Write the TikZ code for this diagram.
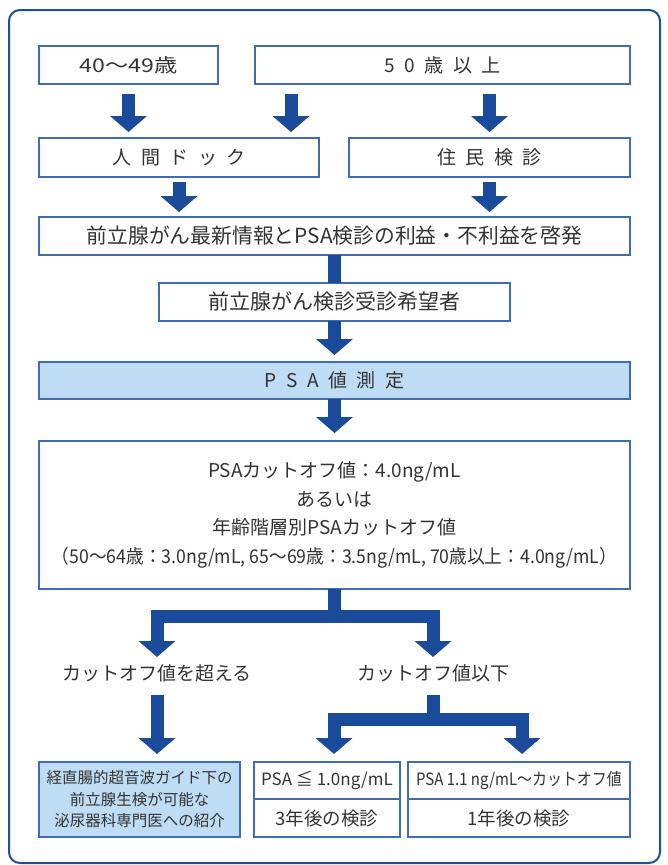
\documentclass[tikz,border=0pt]{standalone}
\usepackage{fontspec}
\setmainfont{Noto Sans CJK JP}
\usetikzlibrary{arrows.meta,calc}
\definecolor{frameblue}{HTML}{1F4E9B}
\definecolor{boxblue}{HTML}{3E6DB5}
\definecolor{arrowblue}{HTML}{1A4A9A}
\definecolor{fillblue}{HTML}{BEDCF3}
\definecolor{textgray}{HTML}{333333}
\newcommand\lsp{\hspace{0.5em}}
\begin{document}
\begin{tikzpicture}[x=1pt,y=1pt,
  box/.style={draw=boxblue, line width=1.2pt, anchor=north west, inner sep=0pt, outer sep=0pt,
    text=textgray, font=\fontsize{19}{22}\selectfont, align=center},
  barrow/.style={draw=arrowblue, line width=13pt, line join=miter,
    -{Triangle[width=37pt,length=16pt,line width=0pt]}},
  bline/.style={draw=arrowblue, line width=13pt, line join=miter},
  lbl/.style={text=textgray, font=\fontsize{19}{22}\selectfont, inner sep=0pt}
]
\useasboundingbox (0,0) rectangle (667,-865);
\draw[frameblue, line width=2pt, rounded corners=11pt] (9,-10) rectangle (660,-863);

% row 1
\node[box, minimum width=179pt, minimum height=38pt] (a40) at (39,-46) {\scalebox{1.22}[1]{40〜49歳}};
\node[box, minimum width=375pt, minimum height=38pt] (a50) at (255,-46) {5\lsp 0\lsp 歳\lsp 以\lsp 上};
% row 2
\node[box, minimum width=280pt, minimum height=39pt] (dock) at (39,-138) {人\lsp 間\lsp ド\lsp ッ\lsp ク};
\node[box, minimum width=281pt, minimum height=39pt] (jumin) at (349,-138) {住\lsp 民\lsp 検\lsp 診};
% row 3
\node[box, minimum width=591pt, minimum height=38pt, font=\fontsize{20.8}{22}\selectfont] (info) at (39,-217) {前立腺がん最新情報とPSA検診の利益・不利益を啓発};
\node[box, minimum width=351pt, minimum height=38pt, font=\fontsize{21}{22}\selectfont] (want) at (159,-283) {前立腺がん検診受診希望者};
\node[box, fill=fillblue, minimum width=591pt, minimum height=37pt] (psa) at (39,-362) {P\lsp S\lsp A\lsp 値\lsp 測\lsp 定};
\node[box, minimum width=591pt, minimum height=148pt, font=\fontsize{19}{28.5}\selectfont] (big) at (39,-441)
  {PSAカットオフ値：4.0ng/mL\\あるいは\\年齢階層別PSAカットオフ値\\
   \scalebox{0.93}[1]{（50〜64歳：3.0ng/mL, 65〜69歳：3.5ng/mL, 70歳以上：4.0ng/mL）}};

% labels
\node[lbl] (over) at (157,-673) {カットオフ値を超える};
\node[lbl] (under) at (433,-673) {カットオフ値以下};

% bottom boxes
\node[box, fill=fillblue, minimum width=201pt, minimum height=75pt, font=\fontsize{15.5}{21.5}\selectfont] (refer) at (39,-762)
  {経直腸的超音波ガイド下の\\前立腺生検が可能な\\泌尿器科専門医への紹介};
\node[box, minimum width=146pt, minimum height=37pt, font=\fontsize{17}{20}\selectfont] (m3a) at (254,-762) {PSA ≦ 1.0ng/mL};
\node[box, minimum width=146pt, minimum height=38pt, font=\fontsize{18.5}{20}\selectfont] (m3b) at (254,-799) {3年後の検診};
\node[box, minimum width=222pt, minimum height=37pt, font=\fontsize{17}{20}\selectfont] (m1a) at (408,-762) {\scalebox{0.88}[1]{PSA 1.1 ng/mL〜カットオフ値}};
\node[box, minimum width=222pt, minimum height=38pt, font=\fontsize{18.5}{20}\selectfont] (m1b) at (408,-799) {1年後の検診};

% arrows row 1
\draw[barrow] ($(a40.south)+(0,-10)$) -- ($(a40.south |- dock.north)+(0,6)$);
\draw[barrow] ($(a50.south west)+(36,-10)$) -- ($(a50.south west |- dock.north)+(36,6)$);
\draw[barrow] ($(jumin.north |- a50.south)+(0,-10)$) -- ($(jumin.north)+(0,6)$);
% arrows row 2
\draw[barrow] ($(dock.south)+(0,-5)$) -- ($(dock.south |- info.north)+(0,5)$);
\draw[barrow] ($(jumin.south)+(0,-5)$) -- ($(jumin.south |- info.north)+(0,5)$);
% center column
\draw[bline] (info.south -| want.north) -- (want.north);
\draw[barrow] (want.south) -- ($(want.south |- psa.north)+(0,7)$);
\draw[barrow] (psa.south -| want.south) -- ($(want.south |- big.north)+(0,8)$);
% branch
\coordinate (bar1) at ($(big.south)+(0,-27.5)$);
\draw[barrow] (big.south) -- (big.south |- bar1) -| ($(over.center)+(0,16)$);
\draw[barrow] (big.south) -- (big.south |- bar1) -| ($(under.center)+(0,16)$);
% left down
\draw[barrow] ($(over.center)+(0,-22)$) -- ($(over.center |- refer.north)+(0,8)$);
% right split
\coordinate (bar2) at ($(under.center)+(0,-46.5)$);
\draw[barrow] ($(under.center)+(0,-22)$) -- (under.center |- bar2) -| ($(m3a.north)+(7,8)$);
\draw[barrow] ($(under.center)+(0,-22)$) -- (under.center |- bar2) -| ($(m1a.north)+(3,8)$);
\end{tikzpicture}
\end{document}
